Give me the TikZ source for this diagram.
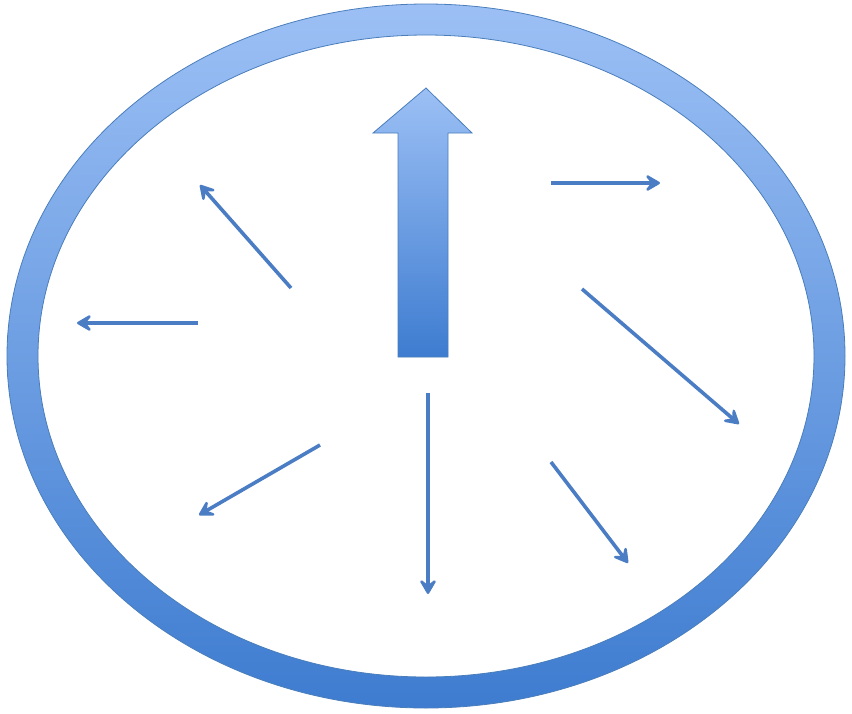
\documentclass[tikz,border=0pt]{standalone}
\usetikzlibrary{arrows.meta}
\definecolor{ringtop}{HTML}{9CC0F5}
\definecolor{ringbot}{HTML}{3E7CD0}
\definecolor{edgec}{HTML}{4A7EBB}
\definecolor{arrc}{HTML}{4A7DC4}
\tikzset{
  thin arrow/.style={draw=arrc, line width=3.6pt, -{Stealth[length=19pt,width=22pt,inset=9pt,round]}}
}
\begin{document}
\begin{tikzpicture}[x=1pt,y=-1pt]
\useasboundingbox (0,0) rectangle (852,713);
% ring
\shade[top color=ringtop, bottom color=ringbot, even odd rule]
  (426,356) ellipse [x radius=419, y radius=352]
  (426,356) ellipse [x radius=388, y radius=321];
\draw[edgec, line width=0.8pt] (426,356) ellipse [x radius=419, y radius=352];
\draw[edgec, line width=0.8pt] (426,356) ellipse [x radius=388, y radius=321];
% big arrow
\shade[top color=ringtop, bottom color=ringbot, draw=edgec, line width=0.8pt]
  (398,357) -- (398,133) -- (373,133) -- (426,88) -- (472,133) -- (448,133) -- (448,357) -- cycle;
% small arrows
\coordinate (a1s) at (291,288); \coordinate (a1e) at (200,185);
\coordinate (a2s) at (198,323); \coordinate (a2e) at (77,323);
\coordinate (a3s) at (320,445); \coordinate (a3e) at (199,515);
\coordinate (a4s) at (428,393); \coordinate (a4e) at (428,594);
\coordinate (a5s) at (551,462); \coordinate (a5e) at (628,563);
\coordinate (a6s) at (582,289); \coordinate (a6e) at (739,424);
\coordinate (a7s) at (551,183); \coordinate (a7e) at (660,183);
\draw[thin arrow] (a1s) -- (a1e);
\draw[thin arrow] (a2s) -- (a2e);
\draw[thin arrow] (a3s) -- (a3e);
\draw[thin arrow] (a4s) -- (a4e);
\draw[thin arrow] (a5s) -- (a5e);
\draw[thin arrow] (a6s) -- (a6e);
\draw[thin arrow] (a7s) -- (a7e);
\end{tikzpicture}
\end{document}
